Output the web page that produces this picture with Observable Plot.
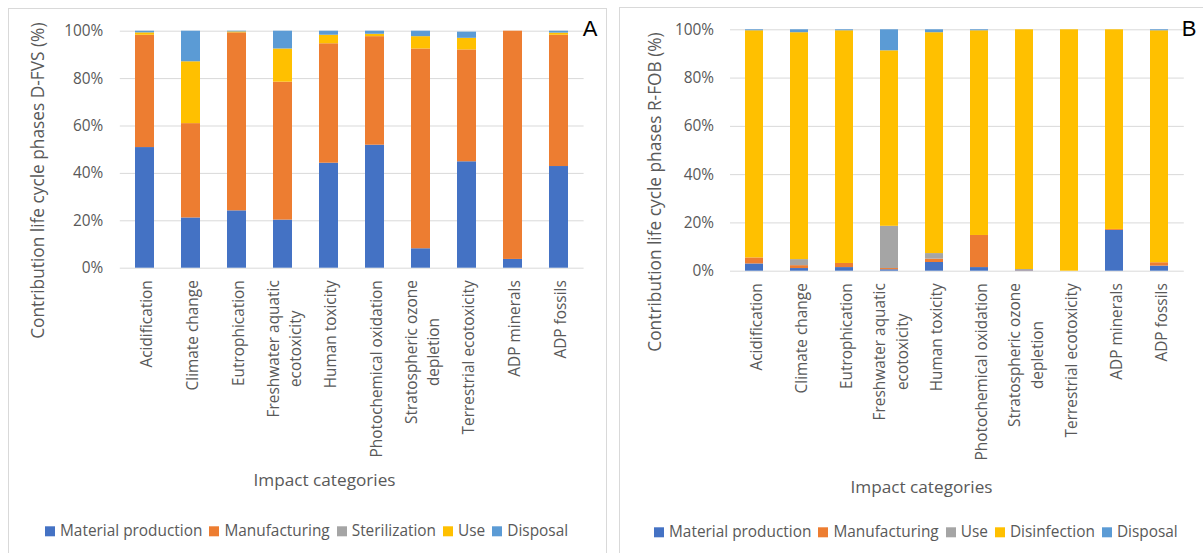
<!DOCTYPE html>
<html><head><meta charset="utf-8">
<script src="https://cdn.jsdelivr.net/npm/d3@7"></script>
<script src="https://cdn.jsdelivr.net/npm/@observablehq/plot@0.6"></script>
<style>
body{margin:0;background:#fff;width:1203px;height:553px;overflow:hidden;position:relative;font-family:"Open Sans",sans-serif;}
.frame{position:absolute;border:1px solid #d9d9d9;box-sizing:border-box;}
.chart{position:absolute;top:0;}
.chart svg{overflow:visible;}
.legend{position:absolute;display:flex;align-items:center;color:#595959;font-size:15.4px;white-space:nowrap;transform:translateY(-50%);line-height:1;}
.legend .sw{width:10px;height:10px;margin-right:5px;flex:none;}
.legend .item{display:flex;align-items:center;margin-right:7px;}
</style></head><body>
<div class="frame" style="left:8px;top:8px;width:599px;height:560px"></div>
<div class="frame" style="left:619px;top:7px;width:600px;height:560px"></div>
<div id="a" class="chart" style="left:0px"></div>
<div id="b" class="chart" style="left:619px"></div>
<div id="legA" class="legend" style="left:45px;top:531px"></div>
<div id="legB" class="legend" style="left:654px;top:532px"></div>
<script>
const categories = ["Acidification","Climate change","Eutrophication","Freshwater aquatic\necotoxicity","Human toxicity","Photochemical oxidation","Stratospheric ozone\ndepletion","Terrestrial ecotoxicity","ADP minerals","ADP fossils"];
const yTicks = [0, 20, 40, 60, 80, 100];

// Panel A (D-FVS)
const phasesA = ["Material production","Manufacturing","Sterilization","Use","Disposal"];
const colorsA = ["#4472C4","#ED7D31","#A5A5A5","#FFC000","#5B9BD5"];
const matA  = [50.9, 21.2, 24.2, 20.3, 44.3, 51.9, 8.2, 44.9, 3.7, 42.9];
const manA  = [47.4, 39.8, 75.1, 58.2, 50.4, 45.8, 84.3, 47.2, 96.3, 55.4];
const sterA = [0, 0, 0, 0, 0, 0, 0, 0, 0, 0];
const useA  = [1.0, 26.1, 0.4, 14.0, 3.6, 1.0, 5.2, 4.9, 0, 0.9];
const dispA = [0.7, 12.9, 0.3, 7.5, 1.7, 1.3, 2.3, 2.6, 0, 0.8];

// Panel B (R-FOB)
const phasesB = ["Material production","Manufacturing","Use","Disinfection","Disposal"];
const colorsB = ["#4472C4","#ED7D31","#A5A5A5","#FFC000","#5B9BD5"];
const matB = [3.0, 1.1, 1.5, 0.6, 3.6, 1.5, 0.2, 0, 16.9, 2.1];
const manB = [2.5, 1.2, 1.7, 0.5, 1.4, 13.3, 0.1, 0, 0.4, 1.4];
const useB = [0, 2.5, 0, 17.5, 2.3, 0, 0.4, 0, 0, 0];
const disB = [94.1, 94.0, 96.4, 72.7, 91.5, 84.8, 99.3, 100, 82.7, 96.1];
const dspB = [0.4, 1.2, 0.4, 8.7, 1.2, 0.4, 0, 0, 0, 0.4];

function makePanel(o) {
  const rows = categories.flatMap((c, i) => o.phases.map((p, j) => ({category: c, phase: p, value: o.values[j][i]})));
  const fs = "15.4px";
  const chart = Plot.plot({
    width: o.width, height: 553,
    marginLeft: o.mL, marginRight: o.mR, marginTop: o.mT, marginBottom: 553 - o.bottom,
    style: {fontFamily: "'Open Sans', sans-serif", fontSize: fs, color: "#595959", background: "transparent", overflow: "visible"},
    x: {domain: categories, paddingInner: o.pad, paddingOuter: o.pad / 2, label: null},
    y: {domain: [0, 100], label: null},
    color: {domain: o.phases, range: o.colors},
    marks: [
      Plot.ruleY(yTicks, {stroke: "#d9d9d9", strokeWidth: 1}),
      Plot.barY(rows, {x: "category", y: "value", fill: "phase", order: o.phases}),
      Plot.axisY({ticks: yTicks, tickSize: 0, tickPadding: o.yPad, tickFormat: d => d + "%", fill: "#595959", fontSize: 15.4, label: null}),
      Plot.axisX({tickRotate: -90, tickSize: 0, tickPadding: 12, fill: "#595959", fontSize: 15.4, lineHeight: 1.45, label: null}),
      Plot.text([o.ytitle], {text: d => d, frameAnchor: "left", textAnchor: "middle", lineAnchor: "middle", rotate: -90, dx: o.ytDx, dy: o.ytDy, fontSize: 17.3, fill: "#595959"}),
      Plot.text(["Impact categories"], {text: d => d, frameAnchor: "bottom", textAnchor: "middle", lineAnchor: "middle", dx: o.xtDx, dy: o.xtDy, fontSize: 17.2, fill: "#595959"}),
      Plot.text([o.letter], {text: d => d, frameAnchor: "top-right", lineAnchor: "middle", textAnchor: "middle", dx: o.lDx, dy: o.lDy, fontSize: 22, fill: "#000", fontFamily: "'Liberation Sans', sans-serif"})
    ]
  });
  document.getElementById(o.el).appendChild(chart);
  // centre the shorter line of wrapped tick labels within the label block
  d3.select(chart).selectAll('g[aria-label="x-axis tick label"] text').each(function() {
    const spans = d3.select(this).selectAll("tspan");
    if (spans.size() < 2) return;
    const widths = spans.nodes().map(n => n.getComputedTextLength());
    const maxW = d3.max(widths);
    spans.each(function(d, i) { d3.select(this).attr("x", -(maxW - widths[i]) / 2); });
  });
  const leg = document.getElementById(o.leg);
  o.phases.forEach((p, i) => {
    const it = document.createElement("div"); it.className = "item";
    const sw = document.createElement("div"); sw.className = "sw"; sw.style.background = o.colors[i];
    const tx = document.createElement("span"); tx.textContent = p;
    it.appendChild(sw); it.appendChild(tx); leg.appendChild(it);
  });
}

makePanel({el: "a", leg: "legA", width: 606, mL: 119.8, mR: 22.4, mT: 30.7, bottom: 267.7, pad: 0.59, yPad: 17,
  phases: phasesA, colors: colorsA, values: [matA, manA, sterA, useA, dispA],
  ytitle: "Contribution life cycle phases D-FVS (%)", ytDx: -82.3, ytDy: 31, xtDx: -27.7, xtDy: 212.3,
  letter: "A", lDx: 5.9, lDy: -1.9});
makePanel({el: "b", leg: "legB", width: 584, mL: 111, mR: 19.2, mT: 29.3, bottom: 270.7, pad: 0.6, yPad: 16.5,
  phases: phasesB, colors: colorsB, values: [matB, manB, useB, disB, dspB],
  ytitle: "Contribution life cycle phases R-FOB (%)", ytDx: -75, ytDy: 41.5, xtDx: -35.9, xtDy: 216,
  letter: "B", lDx: 4.9, lDy: -1});
</script>
</body></html>
